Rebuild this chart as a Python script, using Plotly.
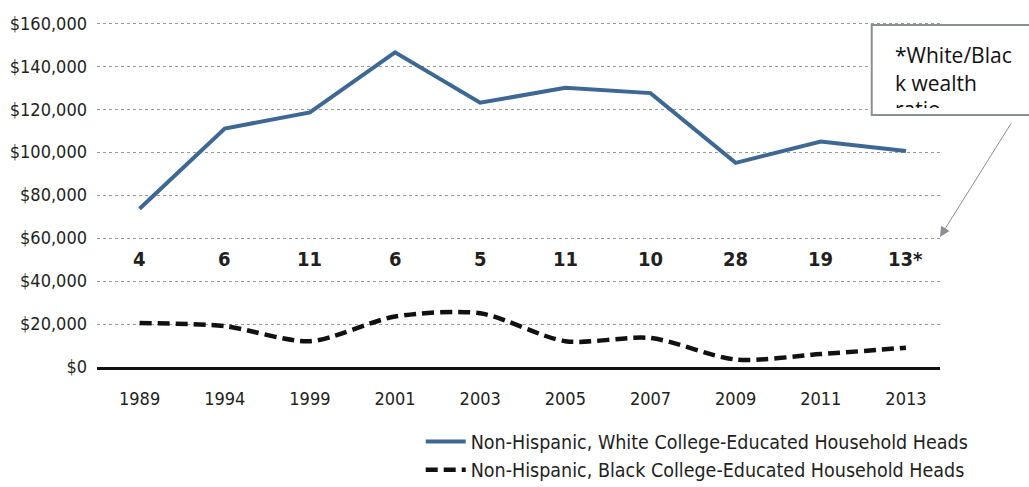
import plotly.graph_objects as go

# survey years
years = ["1989", "1994", "1999", "2001", "2003", "2005", "2007", "2009", "2011", "2013"]

# median wealth, college-educated household heads
white_wealth = [73700, 111000, 118500, 146500, 123000, 130000, 127500, 95000, 105000, 100500]
black_wealth = [20500, 19000, 12000, 23500, 25000, 12000, 13500, 3500, 6000, 9000]

# white/black wealth ratio shown above the black line
ratios = ["4", "6", "11", "6", "5", "11", "10", "28", "19", "13*"]

y_ticks = [0, 20000, 40000, 60000, 80000, 100000, 120000, 140000, 160000]
y_labels = ["$0", "$20,000", "$40,000", "$60,000", "$80,000",
            "$100,000", "$120,000", "$140,000", "$160,000"]

FONT = "DejaVu Sans Condensed, Liberation Sans Narrow, sans-serif"
BOX = "#8a8f96"

fig = go.Figure()

fig.add_trace(go.Scatter(
    x=years, y=white_wealth, mode="lines",
    name="Non-Hispanic, White College-Educated Household Heads",
    line=dict(color="#3d6893", width=4),
))
fig.add_trace(go.Scatter(
    x=years, y=black_wealth, mode="lines",
    name="Non-Hispanic, Black College-Educated Household Heads",
    line=dict(color="#111111", width=4.5, dash="12px,6px", shape="spline", smoothing=0.8),
))

# ratio labels (placed by category index)
for i, r in enumerate(ratios):
    fig.add_annotation(
        x=i, y=50500, text="<b>" + r + "</b>", showarrow=False,
        font=dict(family=FONT, size=20, color="#231f20"),
    )

# callout box with its text clipped at the bottom
fig.add_shape(
    type="rect", xref="paper", yref="paper",
    x0=0.919, x1=1.11, y0=0.7304, y1=0.991,
    line=dict(color=BOX, width=2), fillcolor="white", layer="above",
)
box_font = dict(family="Open Sans", size=21, color="#111111")
for txt, yp in [("*White/Blac", 0.903), ("k wealth", 0.8246), ("ratio", 0.7464)]:
    fig.add_annotation(xref="paper", yref="paper", x=0.944, y=yp,
                       xanchor="left", yanchor="middle",
                       text=txt, showarrow=False, font=box_font)
fig.add_annotation(xref="paper", yref="paper", x=1.0137, y=0.7043,
                   xanchor="center", yanchor="middle",
                   text=" ", showarrow=False, width=151, height=32,
                   bgcolor="white", borderpad=0, borderwidth=0)
fig.add_annotation(xref="paper", yref="paper", x=1.11, y=0.7304, text="",
                   showarrow=True, ax=-162, ay=0, arrowhead=0,
                   arrowwidth=2, arrowcolor=BOX)
# arrow from the box to the last ratio
fig.add_annotation(xref="paper", yref="paper", x=1.0, y=0.377, text="",
                   showarrow=True, ax=72, ay=-115,
                   arrowhead=2, arrowsize=2, arrowwidth=1, arrowcolor=BOX)

fig.update_layout(
    width=1029, height=487,
    margin=dict(l=97, r=89, t=22, b=120, autoexpand=False),
    plot_bgcolor="white", paper_bgcolor="white",
    font=dict(family=FONT, size=17, color="#231f20"),
    showlegend=True,
    legend=dict(
        x=0.384, y=-0.16, xanchor="left", yanchor="top",
        font=dict(family=FONT, size=19.5, color="#231f20"),
        tracegroupgap=0, itemwidth=40,
        bgcolor="rgba(0,0,0,0)",
    ),
    xaxis=dict(
        type="category", range=[-0.5, 9.4],
        showgrid=False, showline=True, linecolor="#111111", linewidth=2.5,
        ticks="", ticklabelstandoff=14, tickfont=dict(family=FONT, size=18),
        fixedrange=True,
    ),
    yaxis=dict(
        range=[0, 160600], tickvals=y_ticks, ticktext=y_labels,
        showgrid=True, gridcolor="#9a9a9a", gridwidth=1, griddash="dot",
        zeroline=False, ticklabelstandoff=9,
        tickfont=dict(family=FONT, size=18),
        fixedrange=True,
    ),
)

fig.write_html("out.html", config={"displayModeBar": False},
               post_script="document.body.style.margin = '0';")
